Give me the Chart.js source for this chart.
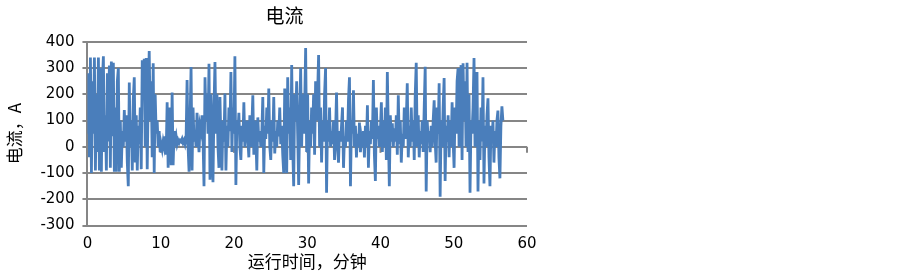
<!DOCTYPE html>
<html>
<head>
<meta charset="utf-8">
<script src="https://cdn.jsdelivr.net/npm/chart.js@4/dist/chart.umd.min.js"></script>
<style>
  html, body { margin: 0; padding: 0; background: #fff; }
  #wrap { position: absolute; left: 0; top: 0; width: 565px; height: 272px; }
</style>
</head>
<body>
<div id="wrap"><canvas id="grafico"></canvas></div>
<script>
// ---------- dados ----------
const tituloGrafico = "电流";
const tituloX = "运行时间，分钟";
const tituloY = "电流，A";

// intervalo de amostragem (minutos)
const passoMin = 0.136;

// corrente, uma amostra por passo, a partir de t = 0
const corrente = [
  50, 280, -40, 340, -100, 250, 50, 340, -90, 200,
  -20, 340, -90, 300, -95, 250, 345, -20, 120, -90,
  280, 20, 310, -80, 325, 40, 320, -95, 150, -95,
  250, 300, -95, 100, -80, 60, 0, 140, 20, 120,
  -60, -150, 245, 0, 100, -90, 180, 265, -60, 120,
  -90, 80, 10, 150, -85, 330, 200, 335, 0, 338,
  -85, 200, 365, 100, 250, -40, 318, -100, 200, 50,
  100, 0, 60, -20, 10, -10, 20, 0, 40, -30,
  170, -80, 150, 100, -70, 207, -70, 60, 20, 40,
  10, 25, 15, 25, 20, 30, 15, 25, 10, 30,
  254, 0, -95, 100, 304, -90, 150, 20, 60, 0,
  130, 40, -20, 80, 60, 120, 30, -150, 265, 100,
  200, 50, 316, -125, 200, 30, -135, 150, 323, 50,
  200, 0, -80, 190, 10, -90, 100, 20, 203, -90,
  80, 0, 150, 60, 285, -20, 150, 50, 345, -145,
  100, 50, 130, 0, -50, 80, 20, 170, 0, 50,
  100, 30, -40, 120, 0, 80, 196, -30, 100, 40,
  -90, 112, 20, 60, 0, 50, 190, -100, 80, 30,
  150, 50, 222, 0, -50, 100, 20, 190, -25, 60,
  0, 100, 40, 150, 10, 80, -30, -100, 222, 0,
  -100, 265, 50, 150, -50, 312, 0, -150, 200, 100,
  250, 50, -145, 100, 300, 0, 200, 50, 150, 376,
  -20, 200, -140, 100, 0, 150, 50, 200, -30, 250,
  100, 200, 350, 0, 150, -60, 100, 20, 200, 300,
  -175, 100, 20, 150, 0, 60, 10, 100, -50, 50,
  207, 0, -60, 60, 20, 80, 150, -80, 40, 0,
  100, 20, 180, 265, -150, 100, 50, 215, 0, 80,
  -40, 50, 0, 92, -20, 30, 0, 60, -40, 80,
  0, 158, -80, 60, 10, 100, 30, 254, -30, -130,
  150, 30, 80, 0, 60, 170, -20, 100, 0, 150,
  -50, 285, 60, -150, 120, 20, 90, 0, 70, 20,
  120, -30, 196, 10, 100, -60, 50, 0, 150, 30,
  100, 242, -40, 80, 0, 150, 20, 100, -50, 200,
  320, 0, 120, -40, 60, 10, 100, -20, 150, 305,
  -170, 100, 30, 60, -20, 80, 0, 100, 177, 20,
  -60, 150, 50, 242, -190, 100, 0, 150, 262, -130,
  80, 20, 120, -40, 100, 0, 170, 30, -80, 150,
  50, 250, 300, 0, 200, 311, -50, 318, 100, 250,
  0, 320, -20, 200, -175, 100, 50, 150, 338, 0,
  200, 285, -170, 100, -50, 150, 20, 265, -140, 80,
  0, 120, 185, -40, -150, 80, 20, 100, -60, 60,
  0, 100, 138, -40, -120, 80, 154, 100
];

// limites dos eixos
const eixoX = { min: 0, max: 60, passo: 10 };
const eixoY = { min: -300, max: 400, passo: 100 };

// ---------- gráfico ----------
const pontos = corrente.map((v, i) => ({ x: i * passoMin, y: v }));
const cinza = "#868686";
const fonteNum = { family: "DejaVu Sans", size: 15 };
const fonteCJK = { family: "Noto Sans CJK SC", size: 17 };

// marcas do eixo horizontal (cruza em y = 0, marcas para baixo)
const marcasEixoX = {
  id: "marcasEixoX",
  beforeDatasetsDraw(chart) {
    const { ctx, scales } = chart;
    const y0 = scales.y.getPixelForValue(0);
    ctx.save();
    ctx.strokeStyle = cinza;
    ctx.lineWidth = 2;
    for (let v = eixoX.min; v <= eixoX.max; v += eixoX.passo) {
      const x = scales.x.getPixelForValue(v);
      ctx.beginPath();
      ctx.moveTo(x, y0);
      ctx.lineTo(x, y0 + 6);
      ctx.stroke();
    }
    ctx.restore();
  }
};

new Chart(document.getElementById("grafico"), {
  type: "line",
  data: {
    datasets: [{
      data: pontos,
      borderColor: "#4a7ebb",
      borderWidth: 2.8,
      pointRadius: 0,
      tension: 0,
      fill: false
    }]
  },
  options: {
    responsive: true,
    maintainAspectRatio: false,
    animation: false,
    layout: { padding: { left: 4, right: 0, top: 0, bottom: 0 } },
    plugins: {
      legend: { display: false },
      tooltip: { enabled: false },
      title: {
        display: true,
        text: tituloGrafico,
        color: "#000",
        font: { family: "Noto Sans CJK SC", size: 19, weight: "normal" },
        padding: { top: 4, bottom: 15 }
      }
    },
    scales: {
      x: {
        type: "linear",
        min: eixoX.min,
        max: eixoX.max,
        ticks: { stepSize: eixoX.passo, color: "#000", font: fonteNum, padding: 2, maxRotation: 0 },
        grid: { display: false },
        border: { display: false },
        title: { display: true, text: tituloX, color: "#000", font: fonteCJK, padding: { top: -4, bottom: 0 } }
      },
      y: {
        min: eixoY.min,
        max: eixoY.max,
        ticks: { stepSize: eixoY.passo, color: "#000", font: fonteNum, padding: 8 },
        grid: { color: cinza, lineWidth: 2, tickLength: 5, drawTicks: true },
        border: { display: true, color: cinza, width: 2 },
        title: { display: true, text: tituloY, color: "#000", font: fonteCJK, padding: { top: 0, bottom: 8 } }
      },
      // eixo vazio à direita, só para reservar a margem branca
      margemDireita: {
        type: "linear",
        position: "right",
        min: 0,
        max: 1,
        grid: { display: false },
        border: { display: false },
        ticks: { display: false },
        afterFit(escala) { escala.width = 38; }
      }
    }
  },
  plugins: [marcasEixoX]
});
</script>
</body>
</html>
